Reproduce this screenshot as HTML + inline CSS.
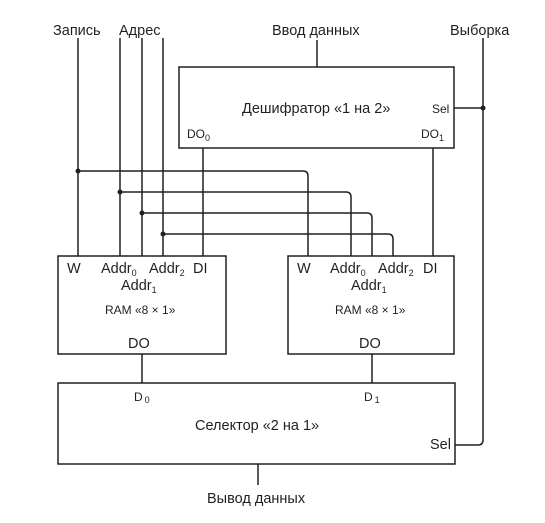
<!DOCTYPE html>
<html><head><meta charset="utf-8"><style>
html,body{margin:0;padding:0;background:#fff;}
svg{display:block;}
text{font-family:"Liberation Sans","DejaVu Sans",sans-serif;font-size:14.5px;fill:#231f20;}
.s{font-size:12px;}
.sub{font-size:9px;}
</style></head><body>
<svg width="545" height="523" viewBox="0 0 545 523" xmlns="http://www.w3.org/2000/svg">
<g fill="none" stroke="#231f20" stroke-width="1.5">
<rect x="179" y="67" width="275" height="81"/>
<rect x="58" y="256" width="168" height="98"/>
<rect x="288" y="256" width="166" height="98"/>
<rect x="58" y="383" width="397" height="81"/>
<line x1="78" y1="38" x2="78" y2="256"/>
<line x1="120" y1="38" x2="120" y2="256"/>
<line x1="142" y1="38" x2="142" y2="256"/>
<line x1="163" y1="38" x2="163" y2="256"/>
<line x1="317" y1="40" x2="317" y2="67"/>
<line x1="203" y1="148" x2="203" y2="256"/>
<line x1="433" y1="148" x2="433" y2="256"/>
<path d="M78 171 H303 Q308 171 308 176 V256"/>
<path d="M120 192 H346 Q351 192 351 197 V256"/>
<path d="M142 213 H367 Q372 213 372 218 V256"/>
<path d="M163 234 H388 Q393 234 393 239 V256"/>
<line x1="454" y1="108" x2="483" y2="108"/>
<path d="M483 38 V440 Q483 445 478 445 H455"/>
<line x1="142" y1="354" x2="142" y2="383"/>
<line x1="372" y1="354" x2="372" y2="383"/>
<line x1="258" y1="464" x2="258" y2="485"/>
</g>
<g fill="#231f20">
<circle cx="78" cy="171" r="2.5"/><circle cx="120" cy="192" r="2.5"/>
<circle cx="142" cy="213" r="2.5"/><circle cx="163" cy="234" r="2.5"/>
<circle cx="483" cy="108" r="2.5"/>
</g>
<text x="53" y="35">Запись</text>
<text x="119" y="35">Адрес</text>
<text x="272" y="35">Ввод данных</text>
<text x="450" y="35">Выборка</text>
<text x="242" y="113">Дешифратор «1 на 2»</text>
<text x="432" y="113" class="s">Sel</text>
<text x="187" y="138" class="s">DO<tspan class="sub" dy="3">0</tspan></text>
<text x="421" y="138" class="s">DO<tspan class="sub" dy="3">1</tspan></text>
<g>
<text x="67" y="273">W</text>
<text x="101" y="273">Addr<tspan class="sub" dy="3">0</tspan></text>
<text x="149" y="273" dx="0">Addr<tspan class="sub" dy="3">2</tspan></text>
<text x="193" y="273">DI</text>
<text x="121" y="290">Addr<tspan class="sub" dy="3">1</tspan></text>
<text x="105" y="314" class="s">RAM «8 × 1»</text>
<text x="128" y="348">DO</text>
</g>
<g>
<text x="297" y="273">W</text>
<text x="330" y="273">Addr<tspan class="sub" dy="3">0</tspan></text>
<text x="378" y="273">Addr<tspan class="sub" dy="3">2</tspan></text>
<text x="423" y="273">DI</text>
<text x="351" y="290">Addr<tspan class="sub" dy="3">1</tspan></text>
<text x="335" y="314" class="s">RAM «8 × 1»</text>
<text x="359" y="348">DO</text>
</g>
<text x="134" y="401" class="s">D<tspan class="sub" dx="2" dy="2">0</tspan></text>
<text x="364" y="401" class="s">D<tspan class="sub" dx="2" dy="2">1</tspan></text>
<text x="195" y="430">Селектор «2 на 1»</text>
<text x="430" y="449">Sel</text>
<text x="207" y="503">Вывод данных</text>
</svg>
</body></html>
